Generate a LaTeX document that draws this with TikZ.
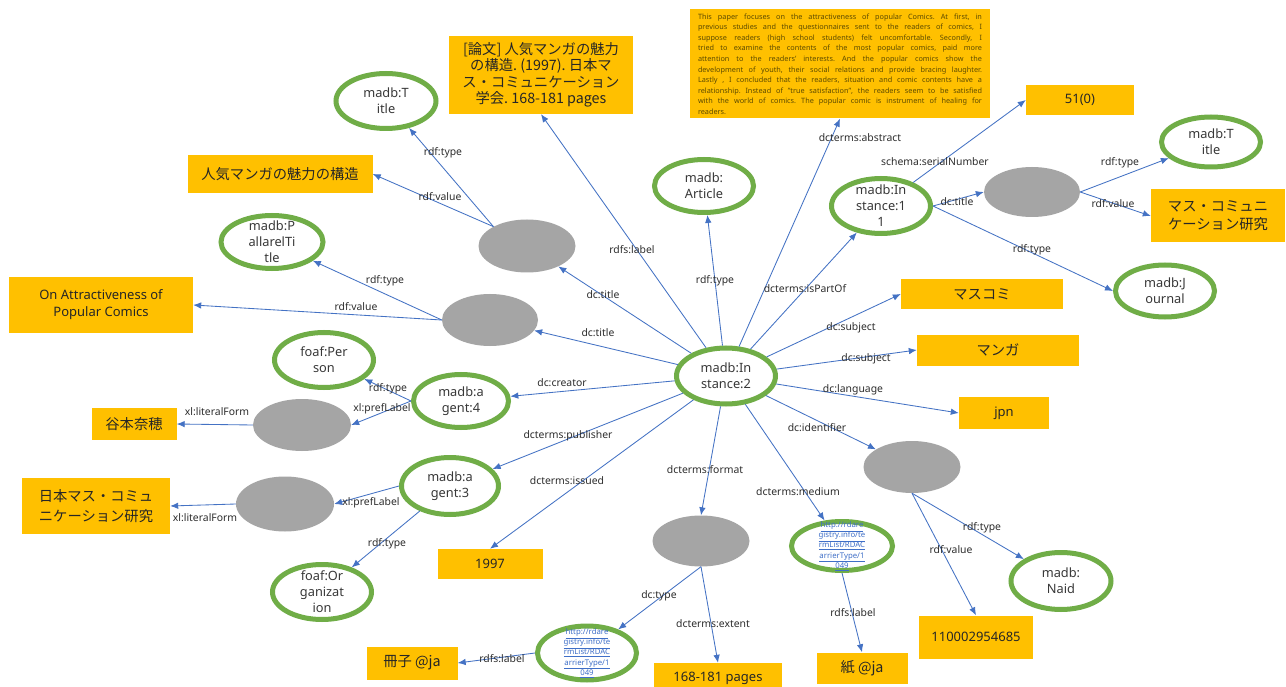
\documentclass[tikz,border=0pt]{standalone}
\usepackage{fontspec}
\setmainfont{Noto Sans}
\newfontfamily\jpfont{Noto Sans CJK JP}
\usetikzlibrary{shapes.geometric,arrows.meta}
\frenchspacing
\definecolor{litgold}{HTML}{FFC000}
\definecolor{resgreen}{HTML}{70AD47}
\definecolor{edgeblue}{HTML}{4472C4}
\definecolor{blankgray}{HTML}{A5A5A5}
\definecolor{littext}{HTML}{262626}
\definecolor{abstext}{HTML}{5C4A00}
\definecolor{nodetext}{HTML}{383838}
\definecolor{lbltext}{HTML}{2E2E2E}
\definecolor{urlblue}{HTML}{3F6FC8}
\begin{document}
\begin{tikzpicture}[x=1pt,y=-1pt,
  res/.style={ellipse, draw=resgreen, line width=5pt, fill=white, inner sep=0pt, outer sep=2.5pt},
  restext/.style={align=center, text=nodetext, inner sep=0pt, font=\fontsize{12.8}{16}\selectfont},
  urltext/.style={align=center, text=urlblue, inner sep=0pt, font=\fontsize{7.8}{10.2}\selectfont},
  blank/.style={ellipse, fill=blankgray, inner sep=0pt},
  lit/.style={rectangle, fill=litgold, inner sep=0pt, align=center, text=littext},
  latlit/.style={lit, font=\fontsize{13}{17}\selectfont},
  jplit/.style={lit, font=\jpfont\fontsize{14.3}{18}\selectfont},
  rel/.style={draw=edgeblue, line width=0.85pt, -{Latex[length=8pt,width=6.5pt]}},
  elbl/.style={font=\fontsize{10.4}{12}\selectfont, text=lbltext, inner sep=0pt}]
\useasboundingbox (0,0) rectangle (1286,687);
\fill[white] (0,0) rectangle (1286,687);

% ---- resources (green ellipses) ----
\node[res, minimum width=99pt, minimum height=56pt, label={[restext]center:madb:In\\stance:2}] (inst2) at (726,376) {};
\node[res, minimum width=99pt, minimum height=55pt, label={[restext]center:madb:In\\stance:1\\1}] (inst11) at (881,206) {};
\node[res, minimum width=100pt, minimum height=55pt, label={[restext]center:madb:T\\itle}] (titleL) at (386,101) {};
\node[res, minimum width=99pt, minimum height=50pt, label={[restext]center:madb:T\\itle}] (titleR) at (1211,142) {};
\node[res, minimum width=99pt, minimum height=53pt, label={[restext]center:madb:\\Article}] (article) at (704,186) {};
\node[res, minimum width=102pt, minimum height=53pt, label={[restext]center:madb:P\\allarelTi\\tle}] (pallarel) at (272,242) {};
\node[res, minimum width=99pt, minimum height=55pt, label={[restext]center:foaf:Per\\son}] (person) at (324,360) {};
\node[res, minimum width=95pt, minimum height=53pt, label={[restext]center:madb:a\\gent:4}] (agent4) at (461,401) {};
\node[res, minimum width=97pt, minimum height=57pt, label={[restext]center:madb:a\\gent:3}] (agent3) at (450,486) {};
\node[res, minimum width=99pt, minimum height=55pt, label={[restext]center:foaf:Or\\ganizat\\ion}] (org) at (322,592) {};
\node[res, minimum width=99pt, minimum height=52pt, label={[restext]center:madb:J\\ournal}] (journal) at (1165,291) {};
\node[res, minimum width=100pt, minimum height=57pt, label={[restext]center:madb:\\Naid}] (naid) at (1061,581) {};
\node[res, minimum width=101pt, minimum height=49pt, label={[urltext]center:\underline{http://rdare}\\\underline{gistry.info/te}\\\underline{rmList/RDAC}\\\underline{arrierType/1}\\\underline{049}}] (medium) at (842,546) {};
\node[res, minimum width=99pt, minimum height=54pt, label={[urltext]center:\underline{http://rdare}\\\underline{gistry.info/te}\\\underline{rmList/RDAC}\\\underline{arrierType/1}\\\underline{049}}] (ctype) at (587,653) {};

% ---- blank nodes (gray ellipses) ----
\node[blank, minimum width=97pt, minimum height=53pt] (bTop) at (527,246) {};
\node[blank, minimum width=96pt, minimum height=52pt] (bLow) at (490,320) {};
\node[blank, minimum width=98pt, minimum height=52pt] (bCre) at (302,425) {};
\node[blank, minimum width=98pt, minimum height=55pt] (bPub) at (285,504) {};
\node[blank, minimum width=96pt, minimum height=50pt] (bTR) at (1032,192) {};
\node[blank, minimum width=97pt, minimum height=52pt] (bId) at (912,467) {};
\node[blank, minimum width=97pt, minimum height=51pt] (bFmt) at (701,541) {};

% ---- literals (gold boxes) ----
\node[lit, minimum width=300pt, minimum height=109pt, text width=284pt, align=justify, text=abstext,
  font=\fontsize{7.3}{10.6}\selectfont] (abstract) at (840,64) {This paper focuses on the attractiveness of popular Comics. At first, in\linebreak
previous studies and the questionnaires sent to the readers of comics, I\linebreak
suppose readers (high school students) felt uncomfortable. Secondly, I\linebreak
tried to examine the contents of the most popular comics, paid more\linebreak
attention to the readers' interests. And the popular comics show the\linebreak
development of youth, their social relations and provide bracing laughter.\linebreak
Lastly , I concluded that the readers, situation and comic contents have a\linebreak
relationship. Instead of "true satisfaction", the readers seem to be satisfied\linebreak
with the world of comics. The popular comic is instrument of healing for\linebreak
readers.};
\node[jplit, minimum width=184pt, minimum height=78pt, font=\jpfont\fontsize{14.3}{16.5}\selectfont] (ronbun) at (541,75) {[論文] 人気マンガの魅力\\の構造. (1997). 日本マ\\ス・コミュニケーション\\学会. 168-181 pages};
\node[jplit, minimum width=185pt, minimum height=38pt] (ninki) at (280,174) {人気マンガの魅力の構造};
\node[latlit, minimum width=184pt, minimum height=55pt] (onattr) at (101,305) {On Attractiveness of\\Popular Comics};
\node[jplit, minimum width=85pt, minimum height=32pt] (tanimoto) at (134,424) {谷本奈穂};
\node[jplit, minimum width=148pt, minimum height=56pt, font=\jpfont\fontsize{14.3}{20}\selectfont] (nihon) at (96,506) {日本マス・コミュ\\ニケーション研究};
\node[latlit, minimum width=105pt, minimum height=30pt] (y1997) at (490,564) {1997};
\node[latlit, minimum width=108pt, minimum height=30pt] (n51) at (1080,100) {51(0)};
\node[jplit, minimum width=134pt, minimum height=53pt] (masucomiKen) at (1218,216) {マス・コミュニ\\ケーション研究};
\node[jplit, minimum width=162pt, minimum height=30pt] (masukomi) at (982,294) {マスコミ};
\node[jplit, minimum width=162pt, minimum height=31pt] (manga) at (998,350) {マンガ};
\node[latlit, minimum width=90pt, minimum height=32pt] (jpnbox) at (1004,413) {jpn};
\node[latlit, minimum width=114pt, minimum height=43pt] (n110) at (976,637) {110002954685};
\node[jplit, minimum width=91pt, minimum height=31pt] (kami) at (862,668) {紙 @ja};
\node[latlit, minimum width=128pt, minimum height=30pt] (pages) at (718,678) {168-181 pages};
\node[jplit, minimum width=91pt, minimum height=33pt] (sasshi) at (412,663) {冊子 @ja};

% ---- connectors ----
\draw[rel] (inst2) -- (ronbun.south);
\draw[rel] (inst2) -- (bTop);
\draw[rel] (inst2) -- (article);
\draw[rel] (inst2) -- (abstract.south);
\draw[rel] (inst2) -- (inst11);
\draw[rel] (inst2) -- (masukomi.west);
\draw[rel] (inst2) -- (manga.west);
\draw[rel] (inst2) -- (jpnbox.west);
\draw[rel] (inst2) -- (bId);
\draw[rel] (inst2) -- (medium);
\draw[rel] (inst2) -- (bFmt.north);
\draw[rel] (inst2) -- (y1997.north);
\draw[rel] (inst2) -- (agent3);
\draw[rel] (inst2) -- (agent4);
\draw[rel] (inst2) -- (bLow);

\draw[rel] (bTop.150) -- (titleL);
\draw[rel] (bTop.150) -- (ninki.east);
\draw[rel] (bLow.west) -- (pallarel);
\draw[rel] (bLow.west) -- (onattr.east);
\draw[rel] (agent4.west) -- (person);
\draw[rel] (agent4.west) -- (bCre.east);
\draw[rel] (bCre.west) -- (tanimoto.east);
\draw[rel] (agent3.west) -- (bPub.east);
\draw[rel] (agent3) -- (org);
\draw[rel] (bPub.west) -- (nihon.east);

\draw[rel] (inst11) -- (n51.west);
\draw[rel] (inst11.east) -- (bTR.west);
\draw[rel] (inst11.east) -- (journal.west);
\draw[rel] (bTR.east) -- (titleR);
\draw[rel] (bTR.east) -- (masucomiKen.west);

\draw[rel] (bId.south) -- (naid);
\draw[rel] (bId.south) -- (n110.north);
\draw[rel] (medium.south) -- (kami.north);
\draw[rel] (bFmt.south) -- (ctype);
\draw[rel] (bFmt.south) -- (pages.north);
\draw[rel] (ctype.west) -- (sasshi.east);

% ---- connector labels ----
\node[elbl] (l01) at (632,250) {rdfs:label};
\node[elbl] (l02) at (603,295) {dc:title};
\node[elbl] (l03) at (715,281) {rdf:type};
\node[elbl] (l04) at (860,138) {dcterms:abstract};
\node[elbl] (l05) at (805,289) {dcterms:isPartOf};
\node[elbl] (l06) at (851,328) {dc:subject};
\node[elbl] (l07) at (866,359) {dc:subject};
\node[elbl] (l08) at (853,390) {dc:language};
\node[elbl] (l09) at (817,428) {dc:identifier};
\node[elbl] (l10) at (798,492) {dcterms:medium};
\node[elbl] (l11) at (705,470) {dcterms:format};
\node[elbl] (l12) at (567,481) {dcterms:issued};
\node[elbl] (l13) at (568,436) {dcterms:publisher};
\node[elbl] (l14) at (562,383) {dc:creator};
\node[elbl] (l15) at (598,333) {dc:title};
\node[elbl] (l16) at (443,153) {rdf:type};
\node[elbl] (l17) at (440,197) {rdf:value};
\node[elbl] (l18) at (385,281) {rdf:type};
\node[elbl] (l19) at (356,307) {rdf:value};
\node[elbl] (l20) at (388,389) {rdf:type};
\node[elbl] (l21) at (382,409) {xl:prefLabel};
\node[elbl] (l22) at (217,412) {xl:literalForm};
\node[elbl] (l23) at (371,503) {xl:prefLabel};
\node[elbl] (l24) at (387,544) {rdf:type};
\node[elbl] (l25) at (205,518) {xl:literalForm};
\node[elbl] (l26) at (935,162) {schema:serialNumber};
\node[elbl] (l27) at (957,202) {dc:title};
\node[elbl] (l28) at (1032,250) {rdf:type};
\node[elbl] (l29) at (1120,163) {rdf:type};
\node[elbl] (l30) at (1113,204) {rdf:value};
\node[elbl] (l31) at (982,528) {rdf:type};
\node[elbl] (l32) at (951,550) {rdf:value};
\node[elbl] (l33) at (853,613) {rdfs:label};
\node[elbl] (l34) at (659,596) {dc:type};
\node[elbl] (l35) at (713,624) {dcterms:extent};
\node[elbl] (l36) at (502,659) {rdfs:label};
\end{tikzpicture}
\end{document}
